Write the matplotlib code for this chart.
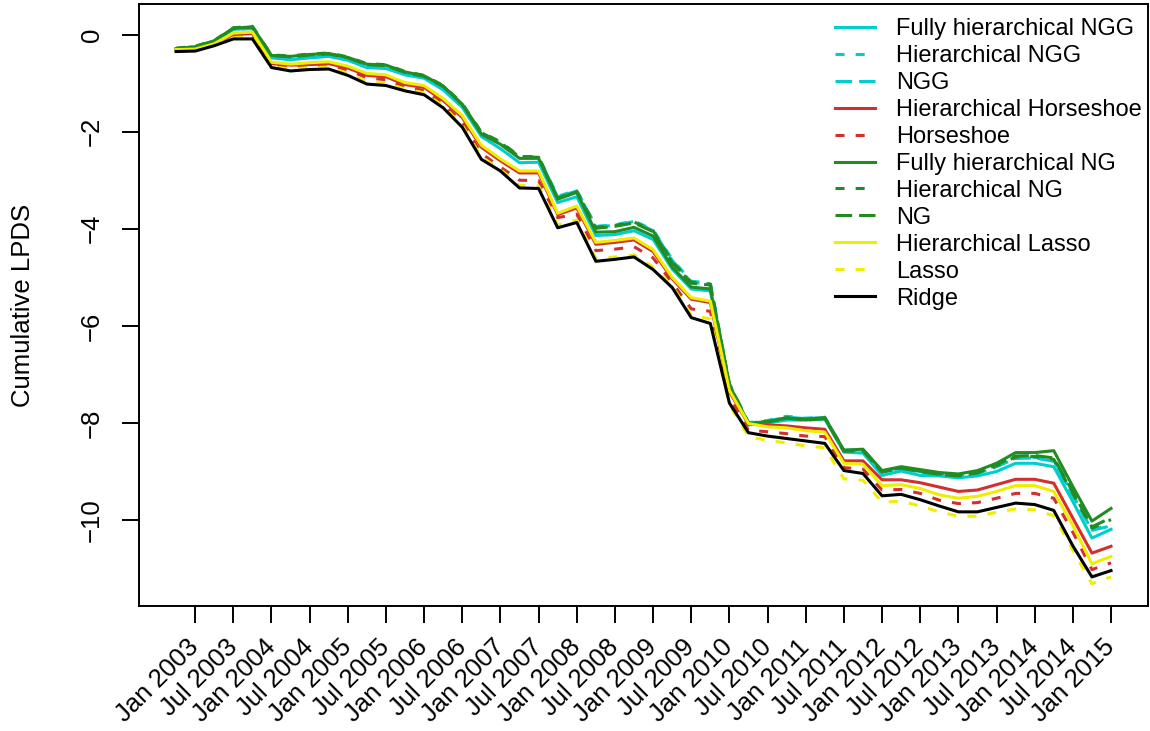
import matplotlib
matplotlib.use("Agg")
import matplotlib.pyplot as plt
import numpy as np

# quarterly points, Oct 2002 .. Jan 2015 (50 quarters)
quarters = np.arange(1, 51)

tick_pos = np.arange(2, 51, 2)
tick_labels = []
for year in range(2003, 2016):
    tick_labels.append(f"Jan {year}")
    if year < 2015:
        tick_labels.append(f"Jul {year}")

# cumulative LPDS per model
fh_ngg = [-0.30, -0.27, -0.15, 0.11, 0.12, -0.48, -0.52, -0.48, -0.45, -0.53,
          -0.68, -0.70, -0.83, -0.90, -1.14, -1.50, -2.10, -2.35, -2.64, -2.63,
          -3.46, -3.34, -4.14, -4.12, -4.04, -4.22, -4.83, -5.24, -5.28, -7.25,
          -8.04, -8.00, -7.94, -7.94, -7.92, -8.60, -8.62, -9.08, -8.99, -9.08,
          -9.09, -9.13, -9.09, -9.00, -8.83, -8.83, -8.90, -9.62, -10.37, -10.19]
h_ngg = [-0.30, -0.26, -0.14, 0.12, 0.14, -0.44, -0.47, -0.43, -0.41, -0.49,
         -0.63, -0.65, -0.79, -0.87, -1.08, -1.45, -2.02, -2.22, -2.52, -2.52,
         -3.33, -3.21, -3.95, -3.92, -3.84, -4.02, -4.63, -5.08, -5.12, -7.20,
         -7.99, -7.95, -7.86, -7.90, -7.88, -8.56, -8.55, -9.00, -8.93, -9.00,
         -9.06, -9.09, -9.03, -8.89, -8.72, -8.71, -8.77, -9.48, -10.19, -10.10]
ngg = [-0.31, -0.27, -0.15, 0.11, 0.13, -0.45, -0.48, -0.44, -0.42, -0.50,
       -0.64, -0.66, -0.80, -0.88, -1.09, -1.46, -2.03, -2.23, -2.53, -2.53,
       -3.35, -3.22, -3.96, -3.93, -3.85, -4.04, -4.65, -5.10, -5.14, -7.21,
       -8.00, -7.96, -7.88, -7.91, -7.89, -8.57, -8.56, -9.01, -8.94, -9.01,
       -9.07, -9.10, -9.04, -8.90, -8.73, -8.72, -8.79, -9.50, -10.21, -10.12]
h_horseshoe = [-0.32, -0.31, -0.20, 0.00, 0.02, -0.60, -0.63, -0.62, -0.60, -0.69,
               -0.84, -0.87, -1.03, -1.09, -1.36, -1.71, -2.32, -2.60, -2.85, -2.85,
               -3.71, -3.57, -4.32, -4.28, -4.23, -4.47, -5.03, -5.45, -5.52, -7.36,
               -8.02, -8.04, -8.06, -8.10, -8.13, -8.78, -8.78, -9.17, -9.17, -9.23,
               -9.32, -9.41, -9.38, -9.27, -9.16, -9.16, -9.24, -9.96, -10.68, -10.54]
horseshoe = [-0.33, -0.32, -0.21, -0.02, -0.01, -0.62, -0.66, -0.64, -0.63, -0.73,
             -0.89, -0.93, -1.09, -1.15, -1.43, -1.80, -2.45, -2.73, -3.00, -3.01,
             -3.77, -3.70, -4.45, -4.42, -4.37, -4.60, -5.11, -5.65, -5.70, -7.46,
             -8.15, -8.18, -8.22, -8.27, -8.28, -8.92, -8.95, -9.38, -9.37, -9.45,
             -9.59, -9.66, -9.64, -9.55, -9.45, -9.45, -9.55, -10.25, -11.02, -10.88]
fh_ng = [-0.29, -0.25, -0.13, 0.13, 0.16, -0.43, -0.45, -0.41, -0.39, -0.47,
         -0.61, -0.63, -0.77, -0.85, -1.06, -1.44, -2.05, -2.26, -2.55, -2.55,
         -3.39, -3.25, -4.07, -4.06, -3.97, -4.15, -4.79, -5.20, -5.24, -7.22,
         -8.01, -7.97, -7.90, -7.92, -7.89, -8.56, -8.54, -8.98, -8.90, -8.96,
         -9.02, -9.05, -8.98, -8.83, -8.61, -8.61, -8.57, -9.31, -10.02, -9.76]
h_ng = [-0.28, -0.24, -0.12, 0.14, 0.17, -0.42, -0.44, -0.40, -0.38, -0.46,
        -0.60, -0.62, -0.76, -0.84, -1.05, -1.42, -2.01, -2.21, -2.51, -2.52,
        -3.37, -3.23, -3.97, -3.93, -3.86, -4.04, -4.68, -5.10, -5.14, -7.20,
        -8.00, -7.97, -7.89, -7.93, -7.90, -8.57, -8.56, -9.00, -8.92, -8.99,
        -9.05, -9.08, -9.02, -8.88, -8.70, -8.69, -8.75, -9.45, -10.17, -9.99]
ng = [-0.29, -0.25, -0.13, 0.13, 0.15, -0.43, -0.46, -0.42, -0.40, -0.48,
      -0.62, -0.64, -0.78, -0.86, -1.07, -1.44, -2.02, -2.23, -2.52, -2.53,
      -3.38, -3.24, -3.99, -3.95, -3.88, -4.06, -4.70, -5.12, -5.16, -7.21,
      -8.02, -7.98, -7.90, -7.94, -7.91, -8.58, -8.57, -9.01, -8.93, -9.00,
      -9.06, -9.09, -9.03, -8.86, -8.68, -8.67, -8.72, -9.42, -10.14, -9.95]
h_lasso = [-0.31, -0.30, -0.19, 0.03, 0.05, -0.57, -0.61, -0.58, -0.56, -0.65,
           -0.80, -0.83, -0.99, -1.05, -1.32, -1.67, -2.28, -2.56, -2.81, -2.81,
           -3.68, -3.53, -4.28, -4.24, -4.19, -4.43, -5.00, -5.42, -5.49, -7.33,
           -8.01, -8.08, -8.10, -8.16, -8.19, -8.83, -8.85, -9.29, -9.27, -9.35,
           -9.48, -9.55, -9.51, -9.41, -9.29, -9.29, -9.41, -10.11, -10.90, -10.75]
lasso = [-0.34, -0.33, -0.22, -0.06, -0.05, -0.66, -0.71, -0.68, -0.67, -0.80,
         -0.97, -1.00, -1.12, -1.20, -1.47, -1.87, -2.52, -2.78, -3.11, -3.12,
         -3.92, -3.82, -4.62, -4.58, -4.54, -4.79, -5.18, -5.78, -5.86, -7.62,
         -8.28, -8.36, -8.41, -8.47, -8.51, -9.15, -9.18, -9.63, -9.61, -9.71,
         -9.83, -9.92, -9.92, -9.84, -9.77, -9.79, -9.91, -10.62, -11.31, -11.17]
ridge = [-0.35, -0.34, -0.23, -0.09, -0.09, -0.68, -0.75, -0.72, -0.71, -0.84,
         -1.02, -1.05, -1.16, -1.24, -1.51, -1.91, -2.57, -2.81, -3.16, -3.17,
         -3.98, -3.87, -4.67, -4.63, -4.58, -4.84, -5.21, -5.83, -5.95, -7.59,
         -8.20, -8.27, -8.32, -8.37, -8.42, -8.98, -9.04, -9.50, -9.47, -9.58,
         -9.71, -9.83, -9.83, -9.74, -9.65, -9.68, -9.80, -10.53, -11.17, -11.04]

cyan = "#00CDCD"
red = "#D32F2F"
green = "#228B22"
yellow = "#EEEE00"

solid = "-"
short_dash = (0, (6.5, 8.0))   # points, dashes not scaled by width
long_dash = (0, (12.0, 5.0))

# (label, values, colour, line style) in legend order
models = [
    ("Fully hierarchical NGG", fh_ngg, cyan, solid),
    ("Hierarchical NGG", h_ngg, cyan, short_dash),
    ("NGG", ngg, cyan, long_dash),
    ("Hierarchical Horseshoe", h_horseshoe, red, solid),
    ("Horseshoe", horseshoe, red, short_dash),
    ("Fully hierarchical NG", fh_ng, green, solid),
    ("Hierarchical NG", h_ng, green, short_dash),
    ("NG", ng, green, long_dash),
    ("Hierarchical Lasso", h_lasso, yellow, solid),
    ("Lasso", lasso, yellow, short_dash),
    ("Ridge", ridge, "black", solid),
]

plt.rcParams["font.family"] = ["Liberation Sans", "DejaVu Sans"]
plt.rcParams["font.size"] = 18.5
plt.rcParams["lines.scale_dashes"] = False

fig = plt.figure(figsize=(11.5, 7.31), dpi=100)
ax = fig.add_axes([138.7 / 1150, 1 - 606 / 731, 1009.7 / 1150, 602 / 731])

for label, values, color, ls in models:
    ax.plot(quarters, values, color=color, linestyle=ls, linewidth=2.2, label=label)

# R style 4% padding around the data
all_vals = np.concatenate([np.asarray(m[1]) for m in models])
xpad = 0.04 * (quarters[-1] - quarters[0])
ypad = 0.04 * (all_vals.max() - all_vals.min())
ax.set_xlim(quarters[0] - xpad, quarters[-1] + xpad)
ax.set_ylim(all_vals.min() - ypad, all_vals.max() + ypad)

ax.set_xticks(tick_pos)
ax.set_xticklabels(tick_labels, rotation=45, ha="right", va="center",
                   rotation_mode="anchor")
ax.set_yticks([0, -2, -4, -6, -8, -10])
for lab in ax.get_yticklabels():
    lab.set_rotation(90)
    lab.set_va("center")

ax.tick_params(axis="both", length=12, width=1.4, direction="out")
ax.tick_params(axis="x", pad=15)
ax.tick_params(axis="y", pad=13)
for spine in ax.spines.values():
    spine.set_linewidth(1.4)

fig.text(23 / 1150, 1 - 305 / 731, "Cumulative LPDS", rotation=90,
         ha="center", va="center", fontsize=18.5)

ax.legend(loc="upper left", bbox_to_anchor=(835 / 1150, 1 - 18 / 731),
          bbox_transform=fig.transFigure, frameon=False, borderpad=0,
          borderaxespad=0, labelspacing=0.21, handlelength=1.7,
          handletextpad=0.9, fontsize=17)

fig.savefig("out.png", dpi=100)
